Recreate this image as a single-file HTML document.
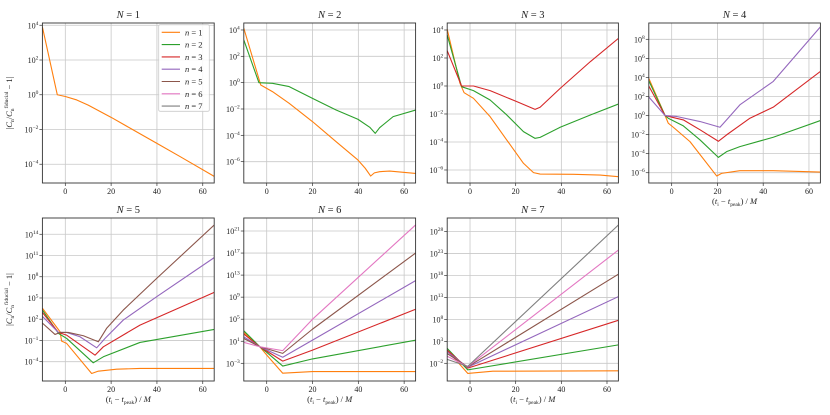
<!DOCTYPE html>
<html><head><meta charset="utf-8"><style>
html,body{margin:0;padding:0;background:#fff;}
svg{display:block;font-family:"Liberation Serif","DejaVu Serif",serif;}
</style></head><body>
<svg id="chart" width="830" height="415" viewBox="0 0 830 415" xmlns="http://www.w3.org/2000/svg"></svg>
<script>
// x ticks shared by all panels
const xTicks = [0, 20, 40, 60];
const xDomain = [-10, 65];
// y tick exponents per panel
const yTicks1 = [4, 2, 0, -2, -4];
const yTicks2 = [4, 2, 0, -2, -4, -6];
const yTicks3 = [4, 2, 0, -2, -4, -6];
const yTicks4 = [8, 6, 4, 2, 0, -2, -4, -6];
const yTicks5 = [14, 11, 8, 5, 2, -1, -4];
const yTicks6 = [21, 17, 13, 9, 5, 1, -3];
const yTicks7 = [28, 23, 18, 13, 8, 3, -2];
// y domains (log10) per panel
const yDom1 = [-5.08, 4.13];
const yDom2 = [-7.62, 4.53];
const yDom3 = [-6.93, 4.5];
const yDom4 = [-7.08, 9.71];
const yDom5 = [-6.73, 16.3];
const yDom6 = [-6.21, 23.36];
const yDom7 = [-6.03, 31.1];
const legendLabels = ["n = 1","n = 2","n = 3","n = 4","n = 5","n = 6","n = 7"];
const colors = ["#ff7f0e","#2ca02c","#d62728","#9467bd","#8c564b","#e377c2","#7f7f7f"];

// Series data: times and log10 |C_n/C_n^fid - 1|
const p1n1T = [-10,-3.5,0,5,10,20,30,40,50,65];
const p1n1V = [3.9,0,-0.1,-0.3,-0.6,-1.3,-2.05,-2.8,-3.55,-4.7];

const p2n1T = [-10,-2.6,2.5,9.8,20,30.3,39.8,43,45.4,47,49.3,53.7,65];
const p2n1V = [4.13,-0.18,-0.68,-1.57,-2.96,-4.48,-5.87,-6.5,-7.09,-6.85,-6.76,-6.71,-6.89];
const p2n2T = [-10,-3.4,2.5,9.8,20,30.3,39.8,45,47.4,49.3,55.2,65];
const p2n2V = [3.24,0,-0.05,-0.3,-1.19,-2.08,-2.78,-3.39,-3.85,-3.42,-2.58,-2.08];

const p3n1T = [-10,-4.4,-2.6,1.5,8.8,16.1,23.4,27.8,30.7,45.4,57,65];
const p3n1V = [4.05,0.19,-0.48,-0.88,-2.19,-3.86,-5.52,-6.19,-6.29,-6.31,-6.36,-6.48];
const p3n2T = [-10,-3.7,1.5,8.8,16.1,23.4,28.5,30.7,39.5,52.7,65];
const p3n2V = [3.64,-0.05,-0.33,-1.0,-2.07,-3.26,-3.74,-3.67,-2.95,-2.07,-1.29];
const p3n3T = [-10,-3.7,1.5,8.8,20.5,28.5,30.7,39.5,52.7,65];
const p3n3V = [2.52,0,0,-0.33,-1.12,-1.67,-1.52,-0.17,1.74,3.4];

const p4n1T = [-10,-2.9,-1.5,0.7,8,19.7,21.8,29.8,44.4,65];
const p4n1V = [3.9,0,-0.8,-1.23,-2.74,-6.35,-6.07,-5.79,-5.79,-5.93];
const p4n2T = [-10,-2.9,-1.5,5.1,12.4,20.4,24,29.8,44.4,65];
const p4n2V = [3.65,0,-0.28,-1.09,-2.56,-4.39,-3.79,-3.26,-2.28,-0.53];
const p4n3T = [-10,-2.9,5.1,12.4,20.4,24,34.2,44.4,65];
const p4n3V = [3.1,0,-0.46,-1.5,-2.7,-2.03,-0.28,0.88,4.63];
const p4n4T = [-10,-2.9,2.2,12.4,21.1,24,29.8,44.4,65];
const p4n4V = [1.95,0,-0.1,-0.63,-1.23,-0.46,1.12,3.58,9.3];

const p5n1T = [-10,-2.3,-1.6,0.6,11.5,14.4,22.4,32.6,65];
const p5n1V = [3.55,0.23,-1.1,-1.42,-5.67,-5.34,-5.06,-4.96,-4.96];
const p5n2T = [-10,-3,0.6,12.2,16.6,32.6,65];
const p5n2V = [3.3,0,-0.72,-4.16,-3.31,-1.28,0.56];
const p5n3T = [-10,-3,0.6,13,16.6,32.6,65];
const p5n3V = [2.95,0.13,-0.25,-3.08,-1.9,1.17,5.79];
const p5n4T = [-10,-3,0.6,6.4,13.7,17.3,25.3,39.9,65];
const p5n4V = [2.4,0.13,0.13,-0.48,-2.04,-0.72,1.88,5.18,10.7];
const p5n5T = [-10,-4.5,-2.3,1.3,7.9,14.4,18,25.3,39.9,65];
const p5n5V = [1.45,-0.15,0.13,0.13,-0.34,-1.19,0.7,3.29,7.77,15.3];

const p6n1T = [-10,-3,0,7,20,65];
const p6n1V = [2.6,0,-1.5,-4.8,-4.5,-4.5];
const p6n2T = [-10,-3,0,7,20,65];
const p6n2V = [2.9,0,-1.0,-3.5,-2.2,1.2];
const p6n3T = [-10,-3,7,20,65];
const p6n3V = [2.3,0,-2.6,-0.6,6.8];
const p6n4T = [-10,-3,7,20,65];
const p6n4V = [1.8,0,-1.9,1.2,12];
const p6n5T = [-10,-3,7,20,65];
const p6n5V = [1.5,0,-1.2,3.2,17];
const p6n6T = [-10,-3,7,20,65];
const p6n6V = [0.8,0,-0.7,5.0,22.1];

const p7n1T = [-10,-1,10,65];
const p7n1V = [1.0,-4.3,-3.8,-3.7];
const p7n2T = [-10,-1,65];
const p7n2V = [1.4,-3.5,2.2];
const p7n3T = [-10,-1,65];
const p7n3V = [1.0,-3.1,7.8];
const p7n4T = [-10,-1,65];
const p7n4V = [0.6,-2.9,13.2];
const p7n5T = [-10,-1,65];
const p7n5V = [0.2,-2.8,18.3];
const p7n6T = [-10,-1,65];
const p7n6V = [-0.4,-2.75,23.8];
const p7n7T = [-10,-1,65];
const p7n7V = [-1.1,-2.7,29.5];

const panels = [
  {title:"1", box:[42.4,23,214.2,183], yDom:yDom1, yTicks:yTicks1, ylabel:true, xlabel:false, legend:true,
   series:[[0,p1n1T,p1n1V]]},
  {title:"2", box:[243.8,23,415.6,183], yDom:yDom2, yTicks:yTicks2,
   series:[[0,p2n1T,p2n1V],[1,p2n2T,p2n2V]]},
  {title:"3", box:[447.2,23,618.4,183], yDom:yDom3, yTicks:yTicks3,
   series:[[0,p3n1T,p3n1V],[1,p3n2T,p3n2V],[2,p3n3T,p3n3V]]},
  {title:"4", box:[648.8,23,820.4,183], yDom:yDom4, yTicks:yTicks4, xlabel:true,
   series:[[0,p4n1T,p4n1V],[1,p4n2T,p4n2V],[2,p4n3T,p4n3V],[3,p4n4T,p4n4V]]},
  {title:"5", box:[42.4,218,214.2,381], yDom:yDom5, yTicks:yTicks5, ylabel:true, xlabel:true,
   series:[[0,p5n1T,p5n1V],[1,p5n2T,p5n2V],[2,p5n3T,p5n3V],[3,p5n4T,p5n4V],[4,p5n5T,p5n5V]]},
  {title:"6", box:[243.8,218,415.6,381], yDom:yDom6, yTicks:yTicks6, xlabel:true,
   series:[[0,p6n1T,p6n1V],[1,p6n2T,p6n2V],[2,p6n3T,p6n3V],[3,p6n4T,p6n4V],[4,p6n5T,p6n5V],[5,p6n6T,p6n6V]]},
  {title:"7", box:[447.2,218,618.4,381], yDom:yDom7, yTicks:yTicks7, xlabel:true,
   series:[[0,p7n1T,p7n1V],[1,p7n2T,p7n2V],[2,p7n3T,p7n3V],[3,p7n4T,p7n4V],[4,p7n5T,p7n5V],[5,p7n6T,p7n6V],[6,p7n7T,p7n7V]]}
];

const NS = "http://www.w3.org/2000/svg";
const svg = document.getElementById("chart");
function mk(tag, attrs, parent){
  const e = document.createElementNS(NS, tag);
  for (const k in attrs) e.setAttribute(k, attrs[k]);
  (parent||svg).appendChild(e);
  return e;
}

panels.forEach((p, pi) => {
  const [x0,y0,x1,y1] = p.box;
  const g = mk("g", {});
  
  
  const sx = v => x0 + (v - xDomain[0]) / (xDomain[1] - xDomain[0]) * (x1 - x0);
  const sy = v => y1 - (v - p.yDom[0]) / (p.yDom[1] - p.yDom[0]) * (y1 - y0);
  xTicks.forEach(t => {
    const l = mk("line", {x1:sx(t), x2:sx(t), y1:y0, y2:y1, stroke:"#c8c8c8", "stroke-width":0.8}, g);
    
    
    mk("line", {x1:sx(t), x2:sx(t), y1:y1, y2:y1+3, stroke:"#333", "stroke-width":0.7}, g);
    const tx = mk("text", {x:sx(t), y:y1+11, "font-size":8, "text-anchor":"middle", fill:"#222"}, g);
    tx.textContent = t;
    
    
  });
  p.yTicks.forEach(t => {
    const l = mk("line", {x1:x0, x2:x1, y1:sy(t), y2:sy(t), stroke:"#c8c8c8", "stroke-width":0.8}, g);
    
    
    mk("line", {x1:x0-3, x2:x0, y1:sy(t), y2:sy(t), stroke:"#333", "stroke-width":0.7}, g);
    const tx = mk("text", {x:x0-4, y:sy(t)+3, "font-size":8, "text-anchor":"end", fill:"#222"}, g);
    
    
    const a = document.createElementNS(NS, "tspan"); a.textContent = "10"; tx.appendChild(a);
    const b = document.createElementNS(NS, "tspan");
    b.setAttribute("dy", "-3.5"); b.setAttribute("font-size", "5.5");
    b.textContent = (t < 0 ? "\u2212" + (-t) : "" + t);
    tx.appendChild(b);
  });
  const cid = "clip" + pi;
  const cp = mk("clipPath", {id:cid}, g);
  mk("rect", {x:x0, y:y0, width:x1-x0, height:y1-y0}, cp);
  p.series.forEach(([ci, T, V]) => {
    const pts = T.map((t, i) => sx(t).toFixed(2) + "," + sy(V[i]).toFixed(2)).join(" ");
    const pl = mk("polyline", {points:pts, fill:"none", stroke:colors[ci], "stroke-width":1.1, "stroke-linejoin":"round", "clip-path":"url(#"+cid+")"}, g);
    
    
  });
  const fr = mk("rect", {x:x0, y:y0, width:x1-x0, height:y1-y0, fill:"none", stroke:"#333", "stroke-width":0.9}, g);
  
  
  const tt = mk("text", {x:(x0+x1)/2, y:y0-5, "font-size":10.5, "text-anchor":"middle", fill:"#222"}, g);
  
  
  const ti = document.createElementNS(NS, "tspan"); ti.setAttribute("font-style","italic"); ti.textContent = "N"; tt.appendChild(ti);
  const tr = document.createElementNS(NS, "tspan"); tr.textContent = " = " + p.title; tt.appendChild(tr);
  if (p.xlabel) {
    const xl = mk("text", {x:(x0+x1)/2, y:y1+21, "font-size":8.5, "text-anchor":"middle", fill:"#222"}, g);
    
    
    xl.innerHTML = '(<tspan font-style="italic">t</tspan><tspan font-size="5.5" dy="2">i</tspan><tspan dy="-2"> \u2212 </tspan><tspan font-style="italic">t</tspan><tspan font-size="5.5" dy="2">peak</tspan><tspan dy="-2">)  /  </tspan><tspan font-style="italic">M</tspan>';
  }
  if (p.ylabel) {
    const cy = (y0+y1)/2;
    const yl = mk("text", {x:0, y:0, "font-size":8.5, "text-anchor":"middle", fill:"#222", transform:"translate(12,"+cy+") rotate(-90)"}, g);
    
    
    yl.innerHTML = '|<tspan font-style="italic">C</tspan><tspan font-size="5.5" dy="2">n</tspan><tspan dy="-2">/</tspan><tspan font-style="italic">C</tspan><tspan font-size="5.5" dy="2">n</tspan><tspan font-size="5.5" dy="-6">fiducial</tspan><tspan dy="4"> \u2212 1|</tspan>';
  }
  if (p.legend) {
    const lg = mk("g", {}, g);
    
    
    mk("rect", {x:158.7, y:24.7, width:50.6, height:86.6, fill:"#fff", "fill-opacity":0.85, stroke:"#ccc", "stroke-width":0.8, rx:1.5}, lg);
    legendLabels.forEach((lab, i) => {
      const yy = 32.3 + i*12.3;
      const e = mk("g", {}, lg);
      
      
      mk("line", {x1:161.7, x2:180, y1:yy, y2:yy, stroke:colors[i], "stroke-width":1.1}, e);
      const t = mk("text", {x:185, y:yy+3, "font-size":8.5, fill:"#222"}, e);
      t.innerHTML = '<tspan font-style="italic">n</tspan> = ' + (i+1);
    });
  }
});
</script>
</body></html>
